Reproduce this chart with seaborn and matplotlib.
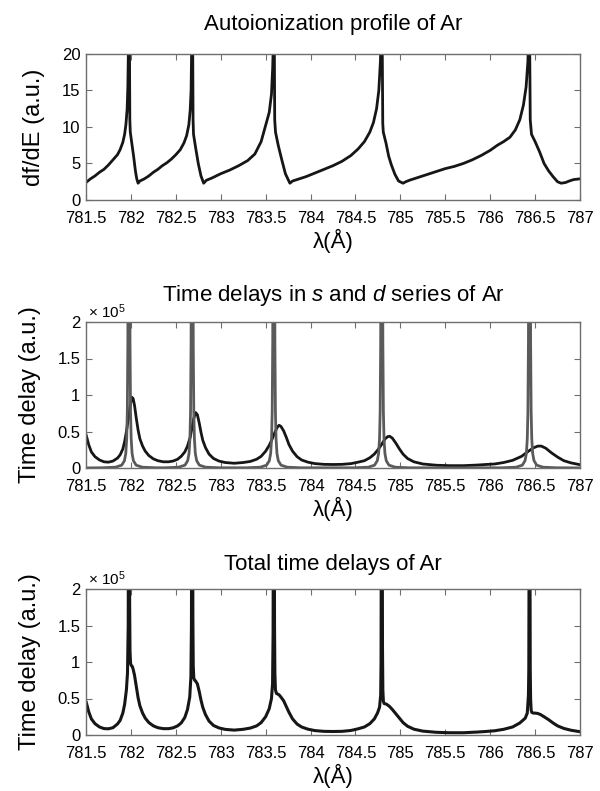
import matplotlib
matplotlib.use("Agg")
import matplotlib.pyplot as plt
import seaborn as sns
import pandas as pd

# ---------------- data ----------------
# Panel 1: autoionization profile df/dE (a.u.) vs wavelength (Angstrom)
profile_wl = [781.50, 781.55, 781.60, 781.65, 781.70, 781.75, 781.80, 781.85, 781.88, 781.91,
              781.93, 781.945, 781.958, 781.966, 781.972, 781.978, 781.984, 781.988, 781.993, 782.01,
              782.03, 782.05, 782.065, 782.08, 782.10, 782.15, 782.20, 782.25, 782.30, 782.35,
              782.40, 782.45, 782.50, 782.55, 782.59, 782.62, 782.645, 782.66, 782.67, 782.676,
              782.682, 782.688, 782.692, 782.697, 782.72, 782.75, 782.78, 782.81, 782.84, 782.90,
              783.00, 783.10, 783.20, 783.30, 783.38, 783.45, 783.50, 783.54, 783.565, 783.578,
              783.585, 783.591, 783.597, 783.601, 783.61, 783.64, 783.68, 783.72, 783.77, 783.80,
              783.85, 783.95, 784.05, 784.15, 784.25, 784.35, 784.45, 784.53, 784.60, 784.66,
              784.70, 784.735, 784.76, 784.778, 784.787, 784.793, 784.799, 784.804, 784.81, 784.84,
              784.87, 784.90, 784.94, 784.98, 785.03, 785.06, 785.10, 785.20, 785.30, 785.40,
              785.50, 785.60, 785.70, 785.80, 785.90, 786.00, 786.08, 786.15, 786.22, 786.28,
              786.33, 786.37, 786.40, 786.42, 786.432, 786.44, 786.446, 786.46, 786.50, 786.55,
              786.60, 786.65, 786.70, 786.75, 786.79, 786.84, 786.88, 786.93, 787.00]
profile_val = [2.4, 2.9, 3.3, 3.8, 4.2, 4.8, 5.5, 6.2, 6.9, 7.9,
               9.0, 10.4, 12.5, 15.5, 20.5, 26, 21, 11, 9.3, 7.8,
               6.0, 4.0, 2.9, 2.3, 2.6, 2.9, 3.3, 3.8, 4.2, 4.7,
               5.1, 5.6, 6.2, 6.9, 7.8, 8.8, 10.3, 12.3, 15, 20.5,
               26, 21, 11, 9.0, 7.2, 5.0, 3.3, 2.3, 2.7, 3.0,
               3.6, 4.1, 4.7, 5.4, 6.3, 8.0, 10.2, 12.0, 14.5, 18,
               21, 26, 21, 11, 9.3, 7.5, 5.5, 3.6, 2.3, 2.6,
               2.8, 3.2, 3.7, 4.2, 4.7, 5.3, 6.1, 7.0, 8.0, 9.3,
               10.6, 12.5, 15, 19, 24, 26, 20, 10.5, 9.3, 7.8,
               6.0, 4.8, 3.5, 2.6, 2.3, 2.5, 2.7, 3.1, 3.5, 3.9,
               4.3, 4.6, 5.0, 5.5, 6.1, 6.8, 7.5, 8.0, 8.6, 9.6,
               11.0, 13.0, 15.5, 19, 26, 21, 11, 9.0, 8.0, 6.6,
               5.0, 4.0, 3.2, 2.5, 2.3, 2.4, 2.6, 2.8, 2.9]

# Panel 2: broad (black) series time delay, units of 1e5 a.u.
broad_wl = [781.50, 781.53, 781.56, 781.60, 781.65, 781.70, 781.75, 781.80, 781.85, 781.88,
            781.91, 781.93, 781.95, 781.97, 781.99, 782.01, 782.025, 782.04, 782.06, 782.08,
            782.10, 782.13, 782.16, 782.20, 782.25, 782.30, 782.36, 782.42, 782.47, 782.52,
            782.56, 782.60, 782.63, 782.66, 782.68, 782.70, 782.72, 782.74, 782.76, 782.78,
            782.80, 782.83, 782.87, 782.92, 782.98, 783.05, 783.15, 783.25, 783.33, 783.40,
            783.45, 783.50, 783.54, 783.57, 783.60, 783.63, 783.65, 783.67, 783.70, 783.73,
            783.76, 783.80, 783.85, 783.90, 783.97, 784.05, 784.15, 784.25, 784.35, 784.45,
            784.53, 784.60, 784.66, 784.71, 784.75, 784.79, 784.83, 784.86, 784.88, 784.91,
            784.95, 784.99, 785.03, 785.08, 785.15, 785.25, 785.40, 785.55, 785.70, 785.85,
            785.95, 786.05, 786.15, 786.25, 786.35, 786.42, 786.48, 786.53, 786.57, 786.62,
            786.68, 786.75, 786.82, 786.90, 787.00]
broad_val = [0.46, 0.32, 0.22, 0.155, 0.11, 0.085, 0.08, 0.095, 0.135, 0.18,
             0.26, 0.36, 0.50, 0.66, 0.84, 0.97, 0.95, 0.86, 0.68, 0.52,
             0.40, 0.30, 0.23, 0.17, 0.125, 0.10, 0.085, 0.085, 0.095, 0.12,
             0.16, 0.22, 0.30, 0.42, 0.55, 0.68, 0.76, 0.73, 0.62, 0.49,
             0.38, 0.28, 0.19, 0.13, 0.095, 0.075, 0.065, 0.075, 0.09, 0.12,
             0.16, 0.23, 0.31, 0.39, 0.48, 0.56, 0.585, 0.57, 0.51, 0.42,
             0.32, 0.23, 0.155, 0.11, 0.08, 0.06, 0.05, 0.048, 0.05, 0.06,
             0.08, 0.10, 0.14, 0.19, 0.25, 0.32, 0.40, 0.43, 0.435, 0.41,
             0.34, 0.26, 0.19, 0.13, 0.085, 0.055, 0.038, 0.032, 0.032, 0.04,
             0.048, 0.055, 0.075, 0.105, 0.16, 0.225, 0.275, 0.30, 0.30, 0.27,
             0.21, 0.15, 0.10, 0.07, 0.045]

# Panel 2: narrow (grey) series time delay, units of 1e5 a.u.
narrow_wl = [781.500,
             781.678, 781.828, 781.898, 781.928, 781.943, 781.953, 781.960, 781.966, 781.970, 781.974, 781.978,
             781.982, 781.986, 781.990, 781.996, 782.003, 782.013, 782.028, 782.058, 782.128, 782.278,
             782.382, 782.532, 782.602, 782.632, 782.647, 782.657, 782.664, 782.670, 782.674, 782.678, 782.682,
             782.686, 782.690, 782.694, 782.700, 782.707, 782.717, 782.732, 782.762, 782.832, 782.982,
             783.291, 783.441, 783.511, 783.541, 783.556, 783.566, 783.573, 783.579, 783.583, 783.587, 783.591,
             783.595, 783.599, 783.603, 783.609, 783.616, 783.626, 783.641, 783.671, 783.741, 783.891,
             784.493, 784.643, 784.713, 784.743, 784.758, 784.768, 784.775, 784.781, 784.785, 784.789, 784.793,
             784.797, 784.801, 784.805, 784.811, 784.818, 784.828, 784.843, 784.873, 784.943, 785.093,
             786.138, 786.288, 786.358, 786.388, 786.403, 786.413, 786.420, 786.426, 786.430, 786.434, 786.438,
             786.442, 786.446, 786.450, 786.456, 786.463, 786.473, 786.488, 786.518, 786.588, 786.738,
             787.000]
narrow_val = [0.001,
              0.003, 0.011, 0.039, 0.10, 0.20, 0.40, 0.77, 1.74, 3.9, 15.6, 20,
              15.6, 3.9, 1.74, 0.77, 0.40, 0.20, 0.10, 0.039, 0.011, 0.003,
              0.003, 0.011, 0.039, 0.10, 0.20, 0.40, 0.77, 1.74, 3.9, 15.6, 20,
              15.6, 3.9, 1.74, 0.77, 0.40, 0.20, 0.10, 0.039, 0.011, 0.003,
              0.003, 0.011, 0.039, 0.10, 0.20, 0.40, 0.77, 1.74, 3.9, 15.6, 20,
              15.6, 3.9, 1.74, 0.77, 0.40, 0.20, 0.10, 0.039, 0.011, 0.003,
              0.003, 0.011, 0.039, 0.10, 0.20, 0.40, 0.77, 1.74, 3.9, 15.6, 20,
              15.6, 3.9, 1.74, 0.77, 0.40, 0.20, 0.10, 0.039, 0.011, 0.003,
              0.003, 0.011, 0.039, 0.10, 0.20, 0.40, 0.77, 1.74, 3.9, 15.6, 20,
              15.6, 3.9, 1.74, 0.77, 0.40, 0.20, 0.10, 0.039, 0.011, 0.003,
              0.001]

# Panel 3: total time delay, units of 1e5 a.u.
total_wl = [781.50, 781.53, 781.56, 781.60, 781.65, 781.70, 781.75, 781.80, 781.85, 781.88,
            781.91, 781.93, 781.95, 781.962, 781.970, 781.974, 781.978, 781.982, 781.986, 781.990,
            781.996, 782.005, 782.015, 782.025, 782.04, 782.06, 782.08, 782.10, 782.13, 782.16,
            782.20, 782.25, 782.30, 782.36, 782.42, 782.47, 782.52, 782.56, 782.60, 782.63,
            782.655, 782.668, 782.674, 782.678, 782.682, 782.686, 782.690, 782.694, 782.700, 782.71,
            782.72, 782.74, 782.76, 782.78, 782.80, 782.83, 782.87, 782.92, 782.98, 783.05,
            783.15, 783.25, 783.33, 783.40, 783.45, 783.50, 783.54, 783.565, 783.577, 783.583,
            783.587, 783.591, 783.595, 783.599, 783.603, 783.609, 783.62, 783.635, 783.65, 783.67,
            783.70, 783.73, 783.76, 783.80, 783.85, 783.90, 783.97, 784.05, 784.15, 784.25,
            784.35, 784.45, 784.53, 784.60, 784.66, 784.71, 784.745, 784.768, 784.781, 784.785,
            784.789, 784.793, 784.797, 784.801, 784.805, 784.811, 784.82, 784.84, 784.86, 784.88,
            784.91, 784.95, 784.99, 785.03, 785.08, 785.15, 785.25, 785.40, 785.55, 785.70,
            785.85, 785.95, 786.05, 786.15, 786.25, 786.33, 786.39, 786.413, 786.426, 786.430,
            786.434, 786.438, 786.442, 786.446, 786.450, 786.456, 786.463, 786.48, 786.50, 786.53,
            786.56, 786.60, 786.65, 786.70, 786.75, 786.82, 786.90, 787.00]
total_val = [0.46, 0.32, 0.22, 0.155, 0.11, 0.088, 0.085, 0.10, 0.15, 0.20,
             0.30, 0.42, 0.62, 0.85, 1.5, 4, 12, 4, 1.8, 1.15,
             0.98, 0.95, 0.94, 0.90, 0.82, 0.66, 0.51, 0.40, 0.30, 0.23,
             0.17, 0.125, 0.10, 0.087, 0.087, 0.098, 0.125, 0.165, 0.24, 0.35,
             0.52, 0.80, 1.5, 4, 12, 4, 1.6, 0.95, 0.78, 0.75,
             0.74, 0.70, 0.60, 0.48, 0.38, 0.28, 0.19, 0.13, 0.097, 0.077,
             0.067, 0.078, 0.095, 0.125, 0.17, 0.25, 0.36, 0.50, 0.70, 1.4,
             4, 12, 4, 1.5, 0.85, 0.62, 0.57, 0.56, 0.55, 0.52,
             0.47, 0.39, 0.31, 0.22, 0.15, 0.11, 0.08, 0.06, 0.05, 0.048,
             0.05, 0.062, 0.085, 0.11, 0.155, 0.22, 0.30, 0.38, 0.55, 1.0,
             4, 12, 4, 1.2, 0.62, 0.46, 0.43, 0.425, 0.41, 0.39,
             0.35, 0.29, 0.23, 0.17, 0.12, 0.08, 0.053, 0.037, 0.031, 0.031,
             0.04, 0.048, 0.058, 0.078, 0.11, 0.165, 0.23, 0.30, 0.55, 0.9,
             3, 12, 3, 0.9, 0.5, 0.34, 0.31, 0.30, 0.30, 0.295,
             0.28, 0.25, 0.21, 0.165, 0.125, 0.09, 0.065, 0.045]

x_ticks = [781.5, 782, 782.5, 783, 783.5, 784, 784.5, 785, 785.5, 786, 786.5, 787]
x_tick_labels = ["781.5", "782", "782.5", "783", "783.5", "784", "784.5", "785",
                 "785.5", "786", "786.5", "787"]
y1_ticks = [0, 5, 10, 15, 20]
y1_tick_labels = ["0", "5", "10", "15", "20"]
y2_ticks = [0, 0.5, 1, 1.5, 2]
y2_tick_labels = ["0", "0.5", "1", "1.5", "2"]

titles = ["Autoionization profile of Ar",
          r"Time delays in $\mathit{s}$ and $\mathit{d}$ series of Ar",
          "Total time delays of Ar"]
ylabels = ["df/dE (a.u.)", "Time delay (a.u.)", "Time delay (a.u.)"]
xlabel = "λ(Å)"

# ---------------- style ----------------
sns.set_theme(style="white")
plt.rcParams["font.family"] = ["Liberation Sans", "DejaVu Sans"]
plt.rcParams["mathtext.fontset"] = "custom"
plt.rcParams["mathtext.rm"] = "Liberation Sans"
plt.rcParams["mathtext.it"] = "Liberation Sans:italic"
plt.rcParams["mathtext.bf"] = "Liberation Sans:bold"

BLACK = "#161616"
GREY = "#5a5a5a"
SPINE = "#6e6e6e"

fig = plt.figure(figsize=(6.0, 7.91), dpi=100)
L, W = 86 / 600, 494 / 600
H = 146 / 791
axes = [fig.add_axes([L, 1 - 200 / 791, W, H]),
        fig.add_axes([L, 1 - 468 / 791, W, H]),
        fig.add_axes([L, 1 - 735 / 791, W, H])]

d1 = pd.DataFrame({"wl": profile_wl, "v": profile_val})
d2a = pd.DataFrame({"wl": broad_wl, "v": broad_val})
d2b = pd.DataFrame({"wl": narrow_wl, "v": narrow_val})
d3 = pd.DataFrame({"wl": total_wl, "v": total_val})

sns.lineplot(data=d1, x="wl", y="v", ax=axes[0], color=BLACK, lw=2.0, sort=False, estimator=None)
sns.lineplot(data=d2a, x="wl", y="v", ax=axes[1], color=BLACK, lw=2.0, sort=False, estimator=None)
sns.lineplot(data=d2b, x="wl", y="v", ax=axes[1], color=GREY, lw=2.0, sort=False, estimator=None)
sns.lineplot(data=d3, x="wl", y="v", ax=axes[2], color=BLACK, lw=2.2, sort=False, estimator=None)

pads = [17, 15, 14]
for i, ax in enumerate(axes):
    ax.set_xlim(781.5, 787)
    ax.set_xticks(x_ticks)
    ax.set_xticklabels(x_tick_labels)
    if i == 0:
        ax.set_ylim(0, 20)
        ax.set_yticks(y1_ticks)
        ax.set_yticklabels(y1_tick_labels)
    else:
        ax.set_ylim(0, 2)
        ax.set_yticks(y2_ticks)
        ax.set_yticklabels(y2_tick_labels)
        ax.text(0.005, 1.005, r"$\times$ 10$^{5}$", transform=ax.transAxes,
                ha="left", va="bottom", fontsize=11, color="black")
    ax.set_title(titles[i], fontsize=16, pad=pads[i], color="black")
    ax.set_xlabel(xlabel, fontsize=16, labelpad=2, color="black")
    ax.set_ylabel(ylabels[i], fontsize=17, labelpad=12, color="black")
    ax.tick_params(axis="both", which="both", direction="in", length=4, width=0.8,
                   top=True, right=True, bottom=True, left=True,
                   labelsize=12, colors="black")
    ax.tick_params(axis="x", pad=8)
    ax.tick_params(axis="y", pad=4)
    ax.tick_params(axis="both", color=SPINE)
    for s in ax.spines.values():
        s.set_visible(True)
        s.set_color(SPINE)
        s.set_linewidth(1.0)
    ax.set_facecolor("white")

fig.savefig("out.png", dpi=100, facecolor="white")
